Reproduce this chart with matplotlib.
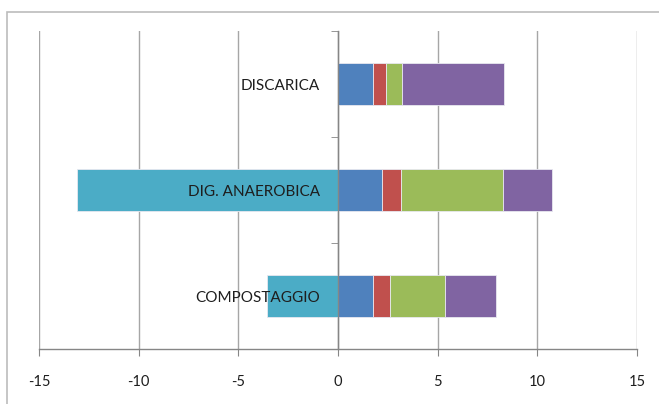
import matplotlib
matplotlib.use("Agg")
import matplotlib.pyplot as plt
from matplotlib.patches import Rectangle
import numpy as np

categories = ["COMPOSTAGGIO", "DIG. ANAEROBICA", "DISCARICA"]
s_neg = [-3.54, -13.08, 0.0]      # cyan (negative)
s_blue = [1.78, 2.19, 1.78]
s_red = [0.81, 0.96, 0.61]
s_green = [2.76, 5.11, 0.84]
s_purple = [2.56, 2.50, 5.10]
xticks = [-15, -10, -5, 0, 5, 10, 15]

plt.rcParams['font.family'] = ['Lato', 'DejaVu Sans']

W, H = 659, 404
fig = plt.figure(figsize=(W / 100, H / 100), dpi=100)
ax = fig.add_axes([39 / W, (H - 349) / H, (637 - 39) / W, (349 - 31) / H])

y = np.arange(len(categories))
h = 0.4
ec = "#e8e8f0"
ax.barh(y, s_neg, height=h, color="#4BACC6", edgecolor=ec, linewidth=0.6, zorder=3)
left = np.zeros(len(categories))
for vals, col in [(s_blue, "#4F81BD"), (s_red, "#C0504D"), (s_green, "#9BBB59"), (s_purple, "#8064A2")]:
    ax.barh(y, vals, left=left, height=h, color=col, edgecolor=ec, linewidth=0.6, zorder=3)
    left = left + np.array(vals)

ax.set_xlim(-15, 15)
ax.set_ylim(-0.5, 2.5)
ax.set_xticks(xticks)
ax.set_xticklabels([str(t) for t in xticks])
ax.xaxis.grid(True, color="#a6a6a6", linewidth=1.0, zorder=0)
ax.set_axisbelow(True)

for s in ["top", "right"]:
    ax.spines[s].set_visible(False)
ax.spines["left"].set_position(("data", 0))
ax.spines["left"].set_color("#868686")
ax.spines["left"].set_zorder(4)
ax.spines["bottom"].set_color("#868686")
ax.spines["left"].set_linewidth(1.0)
ax.spines["bottom"].set_linewidth(1.0)

ax.set_yticks(y)
ax.set_yticklabels(categories)
ax.tick_params(axis="y", length=0, pad=13, labelsize=11, labelcolor="#1e1e1e")
ax.set_yticks([-0.5, 0.5, 1.5, 2.5], minor=True)
ax.tick_params(axis="y", which="minor", length=5, color="#868686", direction="out")
ax.tick_params(axis="x", length=5, color="#868686", direction="out", pad=14,
               labelsize=10.5, labelcolor="#1e1e1e")
ax.yaxis.set_zorder(5)

fig.patches.append(Rectangle((7 / W, -0.1), 1.2, (H - 12) / H + 0.1, transform=fig.transFigure,
                             fill=False, edgecolor="#bcbcbc", linewidth=1.2))

fig.savefig("out.png", dpi=100)
